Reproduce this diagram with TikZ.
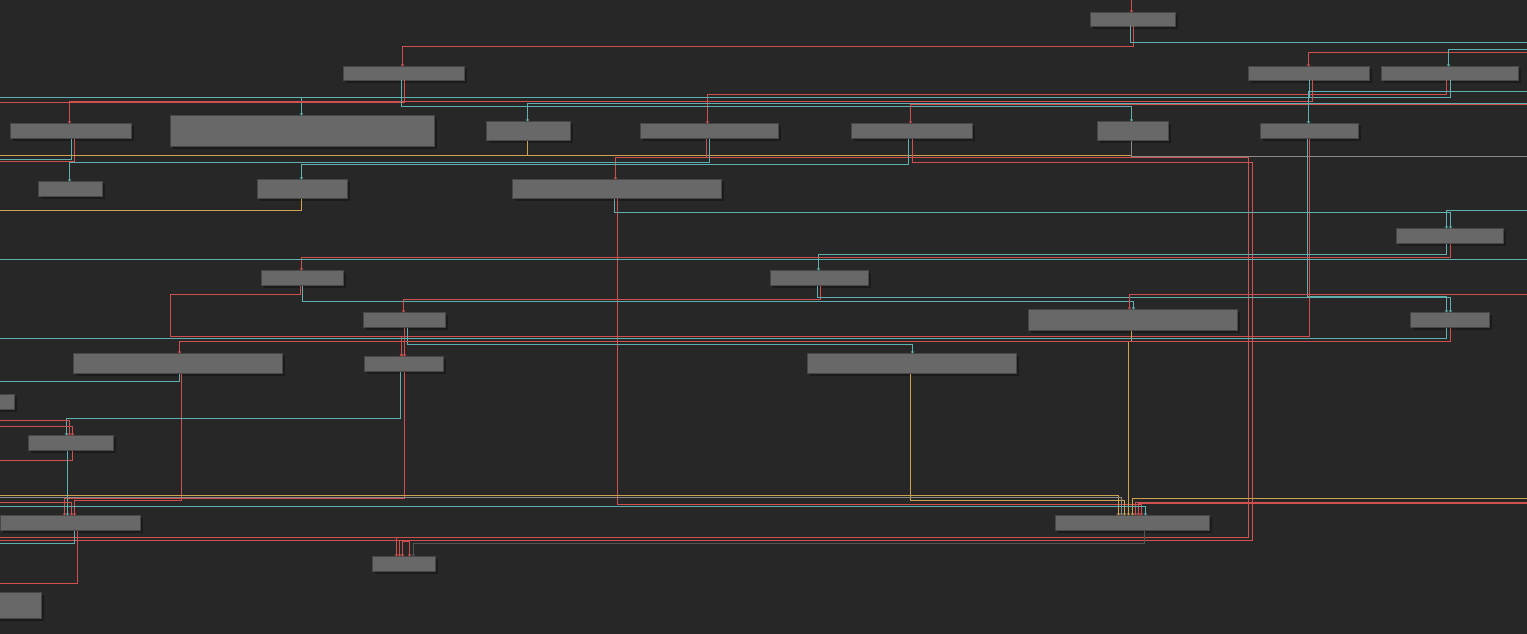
\documentclass[tikz,border=0pt]{standalone}
\usetikzlibrary{arrows.meta,shadows}
\definecolor{bgc}{HTML}{272727}
\definecolor{boxc}{HTML}{686868}
\definecolor{boxb}{HTML}{474747}
\definecolor{shc}{HTML}{1b1b1b}
\definecolor{redc}{HTML}{D05050}
\definecolor{cyanc}{HTML}{5FB0B0}
\definecolor{yelc}{HTML}{CDA350}
\definecolor{grayc}{HTML}{8A8A8A}
\definecolor{dgrayc}{HTML}{555555}
\newcommand\nd[5]{\node[box,minimum width=#4pt,minimum height=#5pt] (#1) at (#2,#3) {};}
\newcommand\wire[6]{%
  \coordinate (wA) at (#3,#4);
  \coordinate (wB) at (#6,#4);
  \draw[#1,arr] (#2.south -| wA) -- (wA) -- (wB) -- (#5.north -| wB);}
\newcommand\wout[5]{%
  \coordinate (wA) at (#3,#4);
  \coordinate (wE) at (#5,#4);
  \draw[#1] (#2.south -| wA) -- (wA) -- (wE);}
\newcommand\win[5]{%
  \coordinate (wE) at (#2,#3);
  \coordinate (wB) at (#5,#3);
  \draw[#1,arr] (wE) -- (wB) -- (#4.north -| wB);}
\begin{document}
\begin{tikzpicture}[x=1pt,y=-1pt,
  box/.style={draw=boxb,fill=boxc,line width=1pt,inner sep=0pt,outer sep=0pt,
    general shadow={fill=shc,shadow xshift=2.5pt,shadow yshift=-2.5pt}},
  rw/.style={draw=redc,line width=1pt},
  cw/.style={draw=cyanc,line width=1pt},
  yw/.style={draw=yelc,line width=1pt},
  gw/.style={draw=grayc,line width=1pt},
  dgw/.style={draw=dgrayc,line width=1pt},
  arr/.style={-{Stealth[length=2.2pt,width=3.5pt]}}]
\fill[bgc] (0,0) rectangle (1527,634);
\useasboundingbox (0,0) rectangle (1527,634);
\begin{scope}[shift={(0.5,0.5)}]
% nodes
\nd{n1}{1132.5}{19}{85}{14}
\nd{n2}{403.5}{73}{121}{14}
\nd{n3}{1308.5}{73}{121}{14}
\nd{n4}{1449.5}{73}{137}{14}
\nd{n5}{70.5}{130.5}{121}{15}
\nd{n6}{302}{130.5}{264}{31}
\nd{n7}{528}{130.5}{84}{19}
\nd{n8}{709}{130.5}{138}{15}
\nd{n9}{911.5}{130.5}{121}{15}
\nd{n10}{1132.5}{130.5}{71}{19}
\nd{n11}{1309}{130.5}{98}{15}
\nd{n12}{70}{188.5}{64}{15}
\nd{n13}{302}{188.5}{90}{19}
\nd{n14}{616.5}{188.5}{209}{19}
\nd{n15}{1449.5}{235.5}{107}{15}
\nd{n16}{302}{277.5}{82}{15}
\nd{n17}{819}{277.5}{98}{15}
\nd{n18}{404}{319.5}{82}{15}
\nd{n19}{1132.5}{319.5}{209}{21}
\nd{n20}{1449.5}{319.5}{79}{15}
\nd{n21}{177.5}{363}{209}{20}
\nd{n22}{403.5}{363.5}{79}{15}
\nd{n23}{911.5}{363}{209}{20}
\nd{n24}{-23}{401.5}{74}{15}
\nd{n25}{70.5}{442.5}{85}{15}
\nd{n26}{70}{522.5}{140}{15}
\nd{n27}{1132}{522.5}{154}{15}
\nd{n28}{403.5}{563.5}{63}{15}
\nd{n29}{10}{605}{62}{26}
% top wires
\coordinate (e1) at (1131,-1); \draw[rw,arr] (e1) -- (n1.north -| e1);
\wire{rw}{n1}{1133}{46}{n2}{402}
\wout{cw}{n1}{1130}{42}{1527}
\win{rw}{1527}{52}{n3}{1308}
\win{cw}{1527}{49}{n4}{1448}
\wire{rw}{n4}{1446}{94}{n8}{707}
\wire{cw}{n4}{1450}{97}{n6}{301}
\wout{cw}{n3}{1309}{97}{-1}
\wire{rw}{n3}{1312}{101}{n5}{69}
\wout{rw}{n2}{404}{102}{-1}
\wire{cw}{n2}{401}{106}{n10}{1131}
\win{cw}{1527}{103}{n7}{527}
\win{rw}{1527}{104}{n9}{910}
\win{cw}{1527}{91}{n11}{1308}
% second row outputs
\wout{cw}{n5}{71}{159}{-1}
\wout{rw}{n5}{74}{161}{-1}
\wout{yw}{n7}{527}{155}{-1}
\wout{yw}{n7}{527}{155}{1131}
\coordinate (a1) at (706,157);
\coordinate (a2) at (396,537);
\draw[rw,arr] (n8.south -| a1) -- (a1) -- (1248,157) -- (1248,537) -- (a2) -- (n28.north -| a2);
\draw[rw] (a2) -- (-1,537);
\coordinate (a3) at (615,157);
\draw[rw,arr] (a1) -- (a3) -- (n14.north -| a3);
\wire{cw}{n8}{709}{162}{n12}{69}
\coordinate (b1) at (912,162);
\coordinate (b2) at (402,540);
\draw[rw,arr] (n9.south -| b1) -- (b1) -- (1252,162) -- (1252,540) -- (b2) -- (n28.north -| b2);
\draw[rw] (b2) -- (-1,540);
\coordinate (b3) at (399,539); \draw[rw,arr] (b3) -- (n28.north -| b3);
\coordinate (b4) at (409,541); \draw[rw,arr] (b4) -- (n28.north -| b4);
\draw[rw] (b4) -- (402,541);
\wire{cw}{n9}{908}{164}{n13}{301}
\wout{gw}{n10}{1131}{156}{1527}
\wire{cw}{n11}{1307}{296}{n20}{1446}
\wire{rw}{n11}{1309}{336}{n22}{401}
\wout{yw}{n13}{301}{210}{-1}
\wire{cw}{n14}{614}{212}{n15}{1450}
\wire{rw}{n14}{617}{504}{n27}{1141}
\win{cw}{1527}{210}{n15}{1446}
\wire{cw}{n15}{1446}{254}{n17}{818}
\wire{rw}{n15}{1450}{257}{n16}{301}
\coordinate (l1) at (-1,259); \coordinate (l2) at (1527,259);
\draw[cw] (l1) -- (l2);
\coordinate (d1) at (300,294); \coordinate (d2) at (170,294);
\coordinate (d3) at (170,336); \coordinate (d4) at (401,336);
\draw[rw,arr] (n16.south -| d1) -- (d1) -- (d2) -- (d3) -- (d4) -- (n22.north -| d4);
\wire{cw}{n16}{302}{301}{n19}{1133}
\wire{rw}{n17}{820}{299}{n18}{403}
\wire{cw}{n17}{817}{297}{n20}{1450}
\win{rw}{1527}{294}{n19}{1129}
\coordinate (f1) at (404,0); \draw[rw,arr] (n18.south -| f1) -- (n22.north -| f1);
\wire{cw}{n18}{407}{344}{n23}{912}
\coordinate (g1) at (1131,341); \coordinate (g2) at (1128,341);
\draw[yw,arr] (n19.south -| g1) -- (g1) -- (g2) -- (n27.north -| g2);
\wout{cw}{n20}{1446}{338}{-1}
\wire{rw}{n20}{1450}{341}{n21}{179}
\wout{cw}{n21}{179}{381}{-1}
\wire{rw}{n21}{181}{500}{n26}{74}
\wire{cw}{n22}{400}{418}{n25}{66}
\wire{rw}{n22}{404}{498}{n26}{64}
\win{rw}{-1}{420}{n25}{69}
\win{rw}{-1}{426}{n25}{72}
\wout{rw}{n25}{72}{460}{-1}
\coordinate (h1) at (67,0); \draw[cw,arr] (n25.south -| h1) -- (n26.north -| h1);
\win{rw}{-1}{502}{n26}{71}
\wire{yw}{n23}{910}{500}{n27}{1124}
\win{yw}{-1}{495}{n27}{1118}
\win{gw}{-1}{497}{n27}{1121}
\win{yw}{1527}{498}{n27}{1132}
\win{rw}{1527}{502}{n27}{1135}
\win{rw}{1527}{503}{n27}{1138}
\win{cw}{-1}{506}{n27}{1145}
\wire{dgw}{n27}{1144}{543}{n28}{413}
\wout{cw}{n26}{74}{543}{-1}
\wout{rw}{n26}{77}{583}{-1}
\end{scope}
\end{tikzpicture}
\end{document}
